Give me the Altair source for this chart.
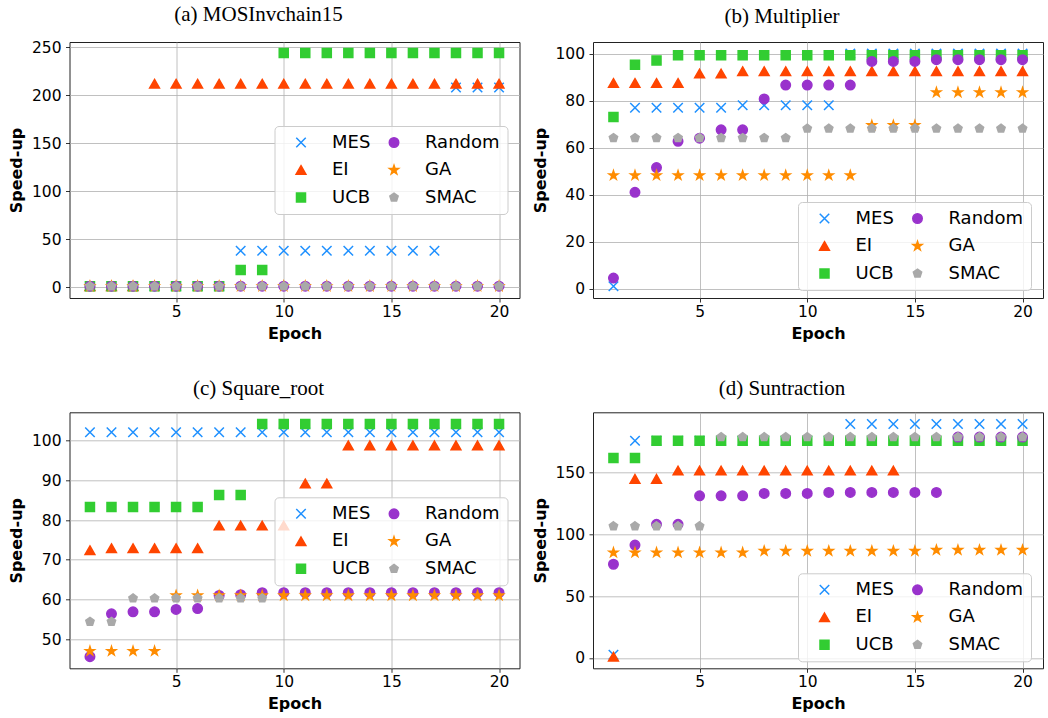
import math
import altair as alt
import pandas as pd

# ---------------- data ----------------
epochs = list(range(1, 21))
methods = ["MES", "EI", "UCB", "Random", "GA", "SMAC"]          # drawing + legend order

# (a) MOSInvchain15
a_MES = [1, 1, 1, 1, 1, 1, 1, 38, 38, 38, 38, 38, 38, 38, 38, 38, 38, 208, 208, 208]
a_EI = [1, 1, 1, 212, 212, 212, 212, 212, 212, 212, 212, 212, 212, 212, 212, 212, 212, 212, 212, 212]
a_UCB = [1, 1, 1, 1, 1, 1, 1, 18, 18, 244, 244, 244, 244, 244, 244, 244, 244, 244, 244, 244]
a_Random = [1, 1, 1, 1, 1, 1, 1, 1, 1, 1, 1, 1, 1, 1, 1, 1, 1, 1, 1, 1]
a_GA = [1, 1, 1, 1, 1, 1, 1, 1, 1, 1, 1, 1, 1, 1, 1, 1, 1, 1, 1, 1]
a_SMAC = [1, 1, 1, 1, 1, 1, 1, 1, 1, 1, 1, 1, 1, 1, 1, 1, 1, 1, 1, 1]

# (b) Multiplier
b_MES = [1, 77, 77, 77, 77, 77, 78, 78, 78, 78, 78, 100, 100, 100, 100, 100, 100, 100, 100, 100]
b_EI = [87.5, 87.5, 87.5, 87.5, 91.5, 91.5, 92.5, 92.5, 92.5, 92.5, 92.5, 92.5, 92.5, 92.5, 92.5,
        92.5, 92.5, 92.5, 92.5, 92.5]
b_UCB = [73, 95.3, 97.1, 99.3, 99.3, 99.3, 99.3, 99.3, 99.3, 99.3, 99.3, 99.3, 99.3, 99.3, 99.3,
         99.3, 99.3, 99.3, 99.3, 99.3]
b_Random = [4.5, 41, 51.5, 62.7, 64, 67.6, 67.6, 80.7, 86.6, 86.6, 86.6, 86.6, 96.7, 96.7, 96.7,
            97.4, 97.4, 97.4, 97.4, 97.4]
b_GA = [48.2, 48.2, 48.2, 48.2, 48.2, 48.2, 48.2, 48.2, 48.2, 48.2, 48.2, 48.2, 69.5, 69.5, 69.5,
        83.5, 83.5, 83.5, 83.5, 83.5]
b_SMAC = [64.1, 64.1, 64.1, 64.1, 64.1, 64.1, 64.1, 64.1, 64.1, 68.1, 68.1, 68.1, 68.1, 68.1, 68.1,
          68.1, 68.1, 68.1, 68.1, 68.1]

# (c) Square_root
c_MES = [102.1] * 20
c_EI = [72.4, 72.9, 72.9, 72.9, 72.9, 72.9, 78.6, 78.6, 78.6, 78.6, 89.2, 89.2, 98.8, 98.8, 98.8,
        98.8, 98.8, 98.8, 98.8, 98.8]
c_UCB = [83.3, 83.3, 83.3, 83.3, 83.3, 83.3, 86.3, 86.3, 104.2, 104.2, 104.2, 104.2, 104.2, 104.2,
         104.2, 104.2, 104.2, 104.2, 104.2, 104.2]
c_Random = [45.6, 56.4, 56.9, 56.9, 57.5, 57.7, 61.0, 61.2, 61.7, 61.7, 61.7, 61.7, 61.7, 61.7,
            61.7, 61.7, 61.7, 61.7, 61.7, 61.7]
c_GA = [47.0, 47.0, 47.0, 47.0, 61.0, 61.0, 61.0, 61.0, 61.0, 61.0, 61.0, 61.0, 61.0, 61.0, 61.0,
        61.0, 61.0, 61.0, 61.0, 61.0]
c_SMAC = [54.4, 54.4, 60.3, 60.3, 60.3, 60.3, 60.3, 60.3, 60.3]

# (d) Suntraction
d_MES = [2.5, 175.5, 175.5, 175.5, 175.5, 175.5, 175.5, 175.5, 175.5, 175.5, 175.5, 189, 189, 189,
         189, 189, 189, 189, 189, 189]
d_EI = [1, 144.7, 144.7, 151.4, 151.4, 151.4, 151.4, 151.4, 151.4, 151.4, 151.4, 151.4, 151.4, 151.4]
d_UCB = [161.6, 161.6, 175.5, 175.5, 175.5, 175.5, 175.5, 175.5, 175.5, 175.5, 175.5, 175.5, 175.5,
         175.5, 175.5, 175.5, 175.5, 175.5, 175.5, 175.5]
d_Random = [75.7, 91.2, 108, 108, 131, 131, 131, 132.9, 132.9, 132.9, 133.7, 133.7, 133.7, 133.7,
            133.7, 133.7, 178.5, 178.5, 178.5, 178.5]
d_GA = [85.1, 85.1, 85.1, 85.1, 85.1, 85.1, 85.1, 86.4, 86.4, 86.4, 86.4, 86.4, 86.4, 86.4, 86.4,
        87.2, 87.2, 87.2, 87.2, 87.2]
d_SMAC = [106.5, 106.5, 106.5, 106.5, 106.5, 178.5, 178.5, 178.5, 178.5, 178.5, 178.5, 178.5, 178.5,
          178.5, 178.5, 178.5, 178.5, 178.5, 178.5, 178.5]

panel_titles = ["(a) MOSInvchain15", "(b) Multiplier", "(c) Square_root", "(d) Suntraction"]
y_domains = [[-11.3, 255.5], [-4.0, 104.95], [42.67, 107.13], [-8.4, 198.5]]
y_ticks = [[0, 50, 100, 150, 200, 250], [0, 20, 40, 60, 80, 100], [50, 60, 70, 80, 90, 100],
           [0, 50, 100, 150]]
x_ticks = [5, 10, 15, 20]

# ---------------- styling ----------------
colors = {"MES": "#1E90FF", "EI": "#FF4500", "UCB": "#32CD32",
          "Random": "#9932CC", "GA": "#FF8C00", "SMAC": "#A9A9A9"}


def fmt(v):
    return f"{v:.3f}"


def regular(n, r, inner=None):
    pts = []
    k = n * 2 if inner else n
    for i in range(k):
        ang = -math.pi / 2 + i * 2 * math.pi / k
        rr = r if (not inner or i % 2 == 0) else r * inner
        pts.append((rr * math.cos(ang), rr * math.sin(ang)))
    return "M" + "L".join(f"{fmt(x)},{fmt(y)}" for x, y in pts) + "Z"


shapes = {
    "MES": "M-1,-1L1,1M-1,1L1,-1",
    "EI": "M0,-0.9L1.03,0.9L-1.03,0.9Z",
    "UCB": "M-0.95,-0.95L0.95,-0.95L0.95,0.95L-0.95,0.95Z",
    "Random": "circle",
    "GA": regular(5, 0.98, inner=0.381966),
    "SMAC": regular(5, 0.92),
}

color_scale = alt.Scale(domain=methods, range=[colors[m] for m in methods])
shape_scale = alt.Scale(domain=methods, range=[shapes[m] for m in methods])

series = {
    0: [a_MES, a_EI, a_UCB, a_Random, a_GA, a_SMAC],
    1: [b_MES, b_EI, b_UCB, b_Random, b_GA, b_SMAC],
    2: [c_MES, c_EI, c_UCB, c_Random, c_GA, c_SMAC],
    3: [d_MES, d_EI, d_UCB, d_Random, d_GA, d_SMAC],
}

legend_pos = [(205, 84), (205, 160), (205, 85), (205, 161)]
title_offsets = [-2, -2, -3.2, -3.2]


def panel(i):
    rows = []
    for m, vals in zip(methods, series[i]):
        for e, v in zip(epochs, vals):
            rows.append({"epoch": e, "value": v, "method": m})
    df = pd.DataFrame(rows)
    lx, ly = legend_pos[i]
    leg = alt.Legend(orient="none", legendX=lx, legendY=ly, columns=2, title=None,
                     symbolSize=90, symbolStrokeWidth=1.5, symbolOpacity=1,
                     labelFontSize=18, labelFont="DejaVu Sans", labelColor="black",
                     labelLimit=300, padding=7.5, rowPadding=9.5, columnPadding=4,
                     labelOffset=22, symbolOffset=10,
                     fillColor="rgba(255,255,255,0.8)", strokeColor="#cccccc",
                     cornerRadius=4)
    return alt.Chart(df).mark_point(filled=True, size=90, strokeWidth=1.5, opacity=1).encode(
        x=alt.X("epoch:Q", title="Epoch",
                scale=alt.Scale(domain=[0.05, 20.95], nice=False, zero=False),
                axis=alt.Axis(values=x_ticks, labelPadding=2.5, titlePadding=5)),
        y=alt.Y("value:Q", title="Speed-up",
                scale=alt.Scale(domain=y_domains[i], nice=False, zero=False),
                axis=alt.Axis(values=y_ticks[i], labelPadding=4.5, titlePadding=6.5)),
        fill=alt.Fill("method:N", scale=color_scale, legend=leg),
        stroke=alt.Stroke("method:N", scale=color_scale, legend=leg),
        shape=alt.Shape("method:N", scale=shape_scale, legend=leg),
    ).properties(
        width=450, height=256,
        title=alt.TitleParams(panel_titles[i], dx=-36, offset=title_offsets[i], frame="group",
                              baseline="alphabetic", anchor="middle", fontSize=21,
                              font="Liberation Serif", fontWeight="normal", color="black"),
    )


ind = dict(x="independent", y="independent", fill="independent",
           stroke="independent", shape="independent")
ind_leg = dict(fill="independent", stroke="independent", shape="independent")

row1 = alt.hconcat(panel(0), panel(1), spacing=10.5).resolve_scale(**ind).resolve_legend(**ind_leg)
row2 = alt.hconcat(panel(2), panel(3), spacing=10.5).resolve_scale(**ind).resolve_legend(**ind_leg)

chart = alt.vconcat(row1, row2, spacing=34.3).resolve_scale(**ind).resolve_legend(**ind_leg).properties(
    padding={"left": 7.5, "top": 3, "right": 0, "bottom": 0},
    background="white",
).configure_view(
    stroke="#222222", strokeWidth=1
).configure_axis(
    grid=True, gridColor="#b0b0b0", gridWidth=0.8, domain=False,
    ticks=True, tickColor="black", tickSize=4, tickWidth=0.8,
    labelFont="DejaVu Sans", labelFontSize=15.5, labelColor="black",
    titleFont="DejaVu Sans", titleFontSize=16, titleFontWeight="bold", titleColor="black",
)

chart.save("out.html", embed_options={"renderer": "svg", "actions": False})
